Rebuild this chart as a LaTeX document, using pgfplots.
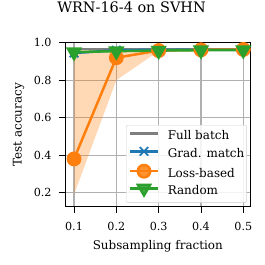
\documentclass[border=0pt]{standalone}
\usepackage{fontspec}
\setmainfont{DejaVu Serif}
\usepackage{pgfplots}
\pgfplotsset{compat=1.18}
\definecolor{cblue}{HTML}{1F77B4}
\definecolor{corange}{HTML}{FF7F0E}
\definecolor{cgreen}{HTML}{2CA02C}
\definecolor{cgray}{HTML}{7F7F7F}
\definecolor{cgrid}{HTML}{B0B0B0}
\begin{document}
\begin{tikzpicture}
\path[use as bounding box] (-65bp,-58.3bp) rectangle (200bp,206.7bp);
\begin{axis}[
  at={(0,0)}, anchor=south west,
  scale only axis, width=185.7bp, height=164bp,
  xmin=0.0787, xmax=0.5175, ymin=0.125, ymax=1.0,
  xtick={0.1,0.2,0.3,0.4,0.5},
  ytick={0.2,0.4,0.6,0.8,1.0},
  xticklabel style={/pgf/number format/fixed,/pgf/number format/precision=1,/pgf/number format/fixed zerofill,
    anchor=north, inner sep=0pt, yshift=-9.7bp},
  yticklabel style={/pgf/number format/fixed,/pgf/number format/precision=1,/pgf/number format/fixed zerofill,
    anchor=east, inner sep=0pt, xshift=-7.3bp},
  /pgf/number format/assume math mode=true,
  tick label style={font=\fontsize{11.2}{13}\selectfont},
  xlabel style={font=\fontsize{12}{14}\selectfont, at={(axis description cs:0.5,0)}, anchor=base, inner sep=0pt, yshift=-43bp},
  ylabel style={font=\fontsize{12}{14}\selectfont, at={(axis description cs:0,0.5)}, anchor=center, inner sep=0pt, yshift=46.5bp},
  title style={font=\fontsize{14.5}{16}\selectfont, at={(axis description cs:0.358,1)}, anchor=base, inner sep=0pt, yshift=24.7bp},
  title={WRN-16-4 on SVHN},
  xlabel={Subsampling fraction},
  ylabel={Test accuracy},
  grid=major,
  major grid style={cgrid, line width=1.1bp},
  axis line style={black, line width=0.9bp},
  tick style={black, line width=0.9bp},
  tick align=outside, major tick length=6bp,
  xtick pos=bottom, ytick pos=left,
  legend style={at={(axis description cs:0,1)}, anchor=north west, xshift=61bp, yshift=-82.3bp,
    draw=cgrid!60, rounded corners=2bp, font=\fontsize{12}{14}\selectfont,
    nodes={inner sep=0pt, text height=8.8bp, text depth=2.5bp},
    inner xsep=2.3bp, inner ysep=5.6bp, row sep=5.0bp, column sep=8.3bp,
    fill=white, fill opacity=0.85, text opacity=1},
  legend cell align=left,
  legend image code/.code={
    \draw[#1] (0bp,3bp) -- (28.4bp,3bp);
    \draw[#1, only marks] plot coordinates {(14.2bp,3bp)};
  },
  clip=false,
]
\addplot[corange, fill=corange, fill opacity=0.3, draw=none, forget plot] coordinates {
 (0.1,0.19) (0.2,0.80) (0.3,0.955) (0.4,0.958) (0.5,0.960)
 (0.5,0.968) (0.4,0.968) (0.3,0.968) (0.2,0.970) (0.1,0.962)} -- cycle;
\addplot[cgray, line width=2.6bp, no marks] coordinates {(0.1,0.966) (0.5,0.966)};
\addlegendentry{Full batch}
\addplot[cblue, line width=2.5bp, mark=x, mark size=6bp, mark options={line width=1.9bp}] coordinates {
 (0.1,0.945) (0.2,0.960) (0.3,0.962) (0.4,0.963) (0.5,0.963)};
\addlegendentry{Grad. match}
\addplot[corange, line width=2.5bp, mark=*, mark size=6.2bp] coordinates {
 (0.1,0.38) (0.2,0.92) (0.3,0.958) (0.4,0.962) (0.5,0.964)};
\addlegendentry{Loss-based}
\addplot[cgreen, line width=2.5bp, mark=triangle*, mark size=7bp, mark options={rotate=180}] coordinates {
 (0.1,0.950) (0.2,0.955) (0.3,0.958) (0.4,0.960) (0.5,0.961)};
\addlegendentry{Random}
\end{axis}
\end{tikzpicture}
\end{document}
